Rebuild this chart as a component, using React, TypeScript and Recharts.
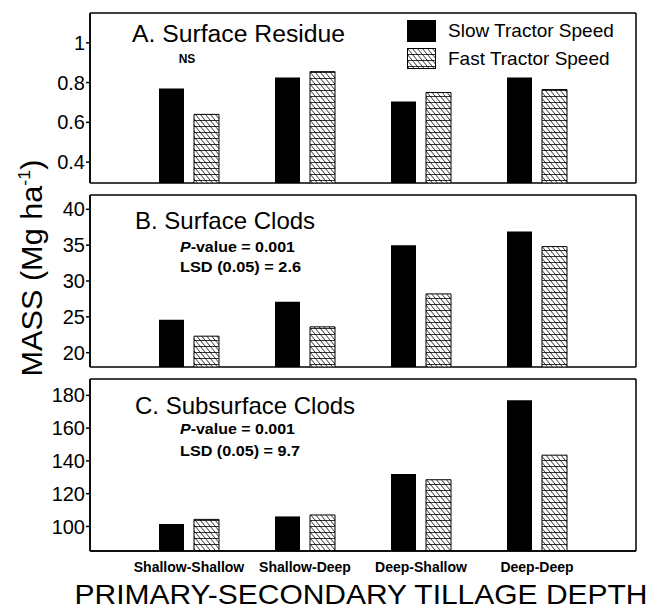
import React from 'react';
import { BarChart, Bar, XAxis, YAxis, Legend, CartesianGrid } from 'recharts';

const categories = ['Shallow-Shallow', 'Shallow-Deep', 'Deep-Shallow', 'Deep-Deep'];
const seriesNames = ['Slow Tractor Speed', 'Fast Tractor Speed'];

const residueSlow = [0.77, 0.825, 0.705, 0.825];
const residueFast = [0.64, 0.855, 0.75, 0.765];
const surfaceSlow = [24.6, 27.1, 35.0, 36.9];
const surfaceFast = [22.3, 23.6, 28.2, 34.8];
const subsurfaceSlow = [101.5, 106.1, 132, 177];
const subsurfaceFast = [104.3, 107, 128.5, 143.5];

const residueTicks = [0.4, 0.6, 0.8, 1];
const surfaceTicks = [20, 25, 30, 35, 40];
const subsurfaceTicks = [100, 120, 140, 160, 180];

const residueDomain = [0.295, 1.15];
const surfaceDomain = [18, 42];
const subsurfaceDomain = [85, 190];

const FONT = '"Liberation Sans", Arial, Helvetica, sans-serif';
const FRAME = { stroke: '#000', strokeWidth: 1.5 };
const seriesFills = ['#000', 'url(#hatch)'];

function rows(slow: number[], fast: number[]) {
  return categories.map((c, i) => ({ name: c, slow: slow[i], fast: fast[i] }));
}

function LegendContent() {
  return (
    <div style={{ fontFamily: FONT, fontSize: 19, color: '#000' }}>
      {seriesNames.map((name, i) => (
        <div key={i} style={{ display: 'flex', alignItems: 'center', height: 28 }}>
          <svg width={29} height={22} style={{ marginRight: 12 }}>
            <rect x={0.5} y={0.5} width={28} height={i === 0 ? 21 : 20} fill={seriesFills[i]} stroke="#000" strokeWidth={1} />
          </svg>
          <span>{name}</span>
        </div>
      ))}
    </div>
  );
}

const hEdges = (p: any) => [p.offset.top, p.offset.top + p.offset.height];
const vEdges = (p: any) => [p.offset.left, p.offset.left + p.offset.width];

function Panel(props: {
  data: any[];
  domain: number[];
  ticks: number[];
  top: number;
  height: number;
  margin: any;
  showX?: boolean;
  legend?: boolean;
}) {
  const { data, domain, ticks, top, height, margin, showX, legend } = props;
  return (
    <div style={{ position: 'absolute', left: 0, top, width: 669, height }}>
      <BarChart width={669} height={height} data={data} margin={margin} barSize={25} barGap={10}>
        <CartesianGrid
          stroke="#000"
          strokeWidth={1.5}
          horizontalCoordinatesGenerator={hEdges}
          verticalCoordinatesGenerator={vEdges}
        />
        <XAxis
          dataKey="name"
          padding={{ left: 41, right: 41 }}
          axisLine={FRAME}
          tickLine={false}
          tick={showX ? { fontSize: 14, fontWeight: 'bold', fill: '#000', fontFamily: FONT } : false}
          height={showX ? 59 : 0}
          interval={0}
          tickSize={6}
          tickMargin={5}
        />
        <YAxis
          type="number"
          domain={domain}
          ticks={ticks}
          allowDataOverflow
          interval={0}
          width={40}
          axisLine={FRAME}
          tickLine={{ stroke: '#000', strokeWidth: 1.5 }}
          tickSize={4}
          tickMargin={1}
          tick={{ fontSize: 20, fill: '#000', fontFamily: FONT }}
        />
        {legend && (
          <Legend
            layout="vertical"
            align="center"
            verticalAlign="middle"
            wrapperStyle={{ top: 17, left: 407, width: 240 }}
            content={LegendContent}
          />
        )}
        <Bar dataKey="slow" name={seriesNames[0]} fill={seriesFills[0]} isAnimationActive={false} />
        <Bar dataKey="fast" name={seriesNames[1]} fill={seriesFills[1]} stroke="#000" strokeWidth={1} isAnimationActive={false} />
      </BarChart>
    </div>
  );
}

export default function App() {
  const txt = { fontFamily: FONT, fill: '#000' } as any;
  return (
    <div style={{ position: 'absolute', left: 0, top: 0, width: 669, height: 610, background: '#fff', overflow: 'hidden' }}>
      <svg width={0} height={0} style={{ position: 'absolute' }}>
        <defs>
          <pattern id="hatch" patternUnits="userSpaceOnUse" width={5} height={6}>
            <rect x={0} y={0} width={5} height={6} fill="#fff" />
            <path d="M0,0.5H5" stroke="#000" strokeWidth={0.8} />
            <path d="M0,0L5,6M-1,4.8L1,7.2M4,-1.2L6,1.2" stroke="#000" strokeWidth={0.8} />
          </pattern>
        </defs>
      </svg>
      <Panel
        data={rows(residueSlow, residueFast)}
        domain={residueDomain}
        ticks={residueTicks}
        top={0}
        height={190}
        margin={{ top: 13, right: 33, bottom: 7, left: 50 }}
        legend
      />
      <Panel
        data={rows(surfaceSlow, surfaceFast)}
        domain={surfaceDomain}
        ticks={surfaceTicks}
        top={190}
        height={180}
        margin={{ top: 5, right: 33, bottom: 3, left: 50 }}
      />
      <Panel
        data={rows(subsurfaceSlow, subsurfaceFast)}
        domain={subsurfaceDomain}
        ticks={subsurfaceTicks}
        top={370}
        height={240}
        margin={{ top: 9, right: 33, bottom: 0, left: 50 }}
        showX
      />
      <svg width={669} height={610} style={{ position: 'absolute', left: 0, top: 0, pointerEvents: 'none' }}>
        <text {...txt} x={132} y={42} fontSize={23} textLength={213} lengthAdjust="spacingAndGlyphs">A. Surface Residue</text>
        <text {...txt} x={187} y={63} fontSize={12} fontWeight="bold" textAnchor="middle">NS</text>

        <text {...txt} x={135} y={229} fontSize={24}>B. Surface Clods</text>
        <text {...txt} x={180} y={252} fontSize={15} fontWeight="bold" textLength={115} lengthAdjust="spacingAndGlyphs">
          <tspan fontStyle="italic">P</tspan>-value = 0.001
        </text>
        <text {...txt} x={180} y={272} fontSize={15} fontWeight="bold" textLength={121} lengthAdjust="spacingAndGlyphs">LSD (0.05) = 2.6</text>

        <text {...txt} x={135} y={414} fontSize={24}>C. Subsurface Clods</text>
        <text {...txt} x={180} y={434} fontSize={15} fontWeight="bold" textLength={115} lengthAdjust="spacingAndGlyphs">
          <tspan fontStyle="italic">P</tspan>-value = 0.001
        </text>
        <text {...txt} x={180} y={456} fontSize={15} fontWeight="bold" textLength={120} lengthAdjust="spacingAndGlyphs">LSD (0.05) = 9.7</text>

        <text {...txt} x={42} y={268} fontSize={29} textAnchor="middle" transform="rotate(-90 42 268)" textLength={217} lengthAdjust="spacingAndGlyphs">
          MASS (Mg ha<tspan dy={-12} fontSize={17}>-1</tspan><tspan dy={12}>)</tspan>
        </text>
        <text {...txt} x={361} y={604} fontSize={28} textAnchor="middle" textLength={573} lengthAdjust="spacingAndGlyphs">PRIMARY-SECONDARY TILLAGE DEPTH</text>
      </svg>
    </div>
  );
}
